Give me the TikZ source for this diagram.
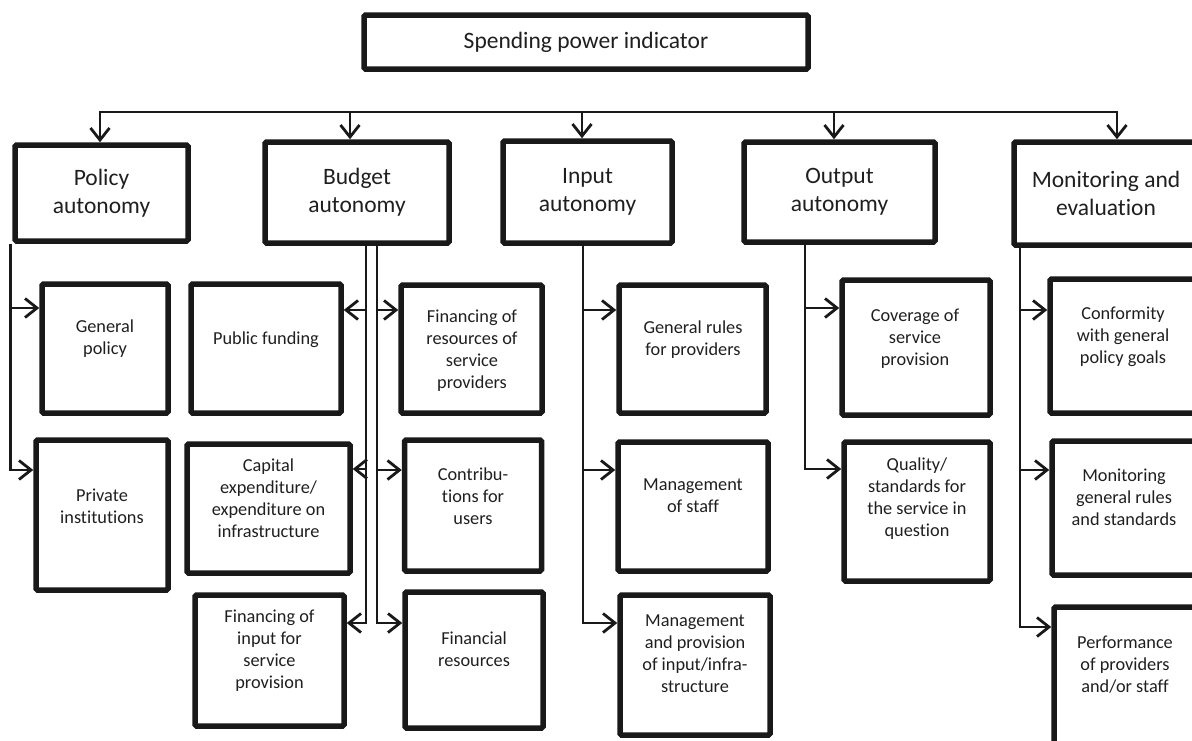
\documentclass[tikz,border=0pt]{standalone}
\usepackage{fontspec}
\setmainfont{Carlito}[RawFeature={-liga}]
\usetikzlibrary{arrows.meta,calc}
\begin{document}
\begin{tikzpicture}[x=1pt,y=-1pt,
  box/.style={draw=black!90, line width=5.5pt, rounded corners=1.5pt, inner sep=0pt},
  big/.style={font=\fontsize{23.5}{28}\selectfont, align=center, text=black!88},
  sml/.style={font=\fontsize{18.3}{22}\selectfont, align=center, text=black!88},
  conn/.style={line width=2.8pt, draw=black!90},
  arr/.style={conn, -{Straight Barb[length=12pt,width=19pt]}},
  darr/.style={conn, {Straight Barb[length=12pt,width=19pt]}-{Straight Barb[length=12pt,width=19pt]}}]
\useasboundingbox (0,0) rectangle (1192,740);

% title
\node[box, big, minimum width=444pt, minimum height=54pt] (top) at (586,42) {Spending power indicator};

% level 1
\node[box, big, minimum width=173pt, minimum height=96pt]  (pol) at (101.5,193) {Policy\\autonomy};
\node[box, big, minimum width=184pt, minimum height=101pt] (bud) at (357,192.5) {Budget\\autonomy};
\node[box, big, minimum width=169pt, minimum height=102pt] (inp) at (587.5,192) {Input\\autonomy};
\node[box, big, minimum width=191pt, minimum height=100pt] (out) at (839.5,192) {Output\\autonomy};
\node[box, big, minimum width=184pt, minimum height=103pt] (mon) at (1106,193.5) {Monitoring and\\evaluation};

% level 2 boxes
\node[box, minimum width=126pt, minimum height=129pt] (gp)   at (105,348.5) {};
\node[box, minimum width=132pt, minimum height=150pt] (pi)   at (102,515) {};
\node[box, minimum width=150pt, minimum height=129pt] (pf)   at (266,348.5) {};
\node[box, minimum width=163pt, minimum height=129pt] (ce)   at (268.5,508.5) {};
\node[box, minimum width=149pt, minimum height=131pt] (fi)   at (269.5,660.5) {};
\node[box, minimum width=141pt, minimum height=128pt] (fr)   at (471.5,349) {};
\node[box, minimum width=137pt, minimum height=131pt] (cu)   at (473,505.5) {};
\node[box, minimum width=138pt, minimum height=136pt] (fres) at (474,660) {};
\node[box, minimum width=147pt, minimum height=128pt] (gr)   at (692.5,349) {};
\node[box, minimum width=150pt, minimum height=129pt] (ms)   at (693,506.5) {};
\node[box, minimum width=150pt, minimum height=140pt] (mp)   at (695,665) {};
\node[box, minimum width=148pt, minimum height=135pt] (cov)  at (916,347.5) {};
\node[box, minimum width=146pt, minimum height=139pt] (qs)   at (917,511.5) {};
\node[box, minimum width=146pt, minimum height=134pt] (cg)   at (1123,346) {};
\node[box, minimum width=144pt, minimum height=134pt] (mg)   at (1124,508) {};
\node[box, minimum width=142pt, minimum height=141pt] (pp)   at (1125,677.5) {};

% level 2 texts
\node[sml] (gp-t)   at (105,338.5) {General\\policy};
\node[sml] (pi-t)   at (102,506) {Private\\institutions};
\node[sml] (pf-t)   at (266,340) {Public funding};
\node[sml] (ce-t)   at (268.5,498.5) {Capital\\expenditure/\\expenditure on\\infrastructure};
\node[sml] (fi-t)   at (269.5,651) {Financing of\\input for\\service\\provision};
\node[sml] (fr-t)   at (472,350.5) {Financing of\\resources of\\service\\providers};
\node[sml] (cu-t)   at (473,496.5) {Contribu-\\tions for\\users};
\node[sml] (fres-t) at (474,649) {Financial\\resources};
\node[sml] (gr-t)   at (693,340) {General rules\\for providers};
\node[sml] (ms-t)   at (693,496) {Management\\of staff};
\node[sml] (mp-t)   at (695,654) {Management\\and provision\\of input/infra-\\structure};
\node[sml] (cov-t)  at (915,339) {Coverage of\\service\\provision};
\node[sml] (qs-t)   at (917,499) {Quality/\\standards for\\the service in\\question};
\node[sml] (cg-t)   at (1123,336.5) {Conformity\\with general\\policy goals};
\node[sml] (mg-t)   at (1124,497) {Monitoring\\general rules\\and standards};
\node[sml] (pp-t)   at (1125,665) {Performance\\of providers\\and/or staff};

% bus
\coordinate (b1) at (100,112);
\coordinate (b2) at (350,112);
\coordinate (b3) at (582,112);
\coordinate (b4) at (834,112);
\coordinate (b5) at (1117,112);
\draw[darr] (b1 |- pol.north) -- (b1) -- (b5) -- (b5 |- mon.north);
\draw[arr] (b2) -- (b2 |- bud.north);
\draw[arr] (b3) -- (b3 |- inp.north);
\draw[arr] (b4) -- (b4 |- out.north);

% arrow targets
\coordinate (a-gp)   at ($(gp.west)+(0,-40.5)$);
\coordinate (a-pi)   at ($(pi.west)+(0,-45)$);
\coordinate (a-pf)   at ($(pf.east)+(0,-38.5)$);
\coordinate (a-ce)   at ($(ce.east)+(0,-39.5)$);
\coordinate (a-fi)   at ($(fi.east)+(0,-37.5)$);
\coordinate (a-fr)   at ($(fr.west)+(0,-39)$);
\coordinate (a-cu)   at ($(cu.west)+(0,-35.5)$);
\coordinate (a-fres) at ($(fres.west)+(0,-37)$);
\coordinate (a-gr)   at ($(gr.west)+(0,-39)$);
\coordinate (a-ms)   at ($(ms.west)+(0,-36.5)$);
\coordinate (a-mp)   at ($(mp.west)+(0,-42)$);
\coordinate (a-cov)  at ($(cov.west)+(0,-39.5)$);
\coordinate (a-qs)   at ($(qs.west)+(0,-42.5)$);
\coordinate (a-cg)   at ($(cg.west)+(0,-36)$);
\coordinate (a-mg)   at ($(mg.west)+(0,-38)$);
\coordinate (a-pp)   at ($(pp.west)+(0,-50.5)$);

% vertical spines
\coordinate (pv) at ($(pol.south west)+(-1.5,0)$);
\coordinate (bl) at ($(bud.south)+(9,0)$);
\coordinate (br) at ($(bud.south)+(20,0)$);
\coordinate (iv) at ($(inp.south)+(-4.5,0)$);
\coordinate (ov) at ($(out.south)+(-34.5,0)$);
\coordinate (mv) at ($(mon.south)+(-86,0)$);

% policy
\draw[arr] (pv) |- (a-pi);
\draw[arr] (pv |- a-gp) -- (a-gp);
% budget left
\draw[arr] (bl) |- (a-fi);
\draw[arr] (bl |- a-pf) -- (a-pf);
\draw[arr] (bl |- a-ce) -- (a-ce);
% budget right
\draw[arr] (br) |- (a-fres);
\draw[arr] (br |- a-fr) -- (a-fr);
\draw[arr] (br |- a-cu) -- (a-cu);
% input
\draw[arr] (iv) |- (a-mp);
\draw[arr] (iv |- a-gr) -- (a-gr);
\draw[arr] (iv |- a-ms) -- (a-ms);
% output
\draw[arr] (ov) |- (a-qs);
\draw[arr] (ov |- a-cov) -- (a-cov);
% monitoring
\draw[arr] (mv) |- (a-pp);
\draw[arr] (mv |- a-cg) -- (a-cg);
\draw[arr] (mv |- a-mg) -- (a-mg);
\end{tikzpicture}
\end{document}
